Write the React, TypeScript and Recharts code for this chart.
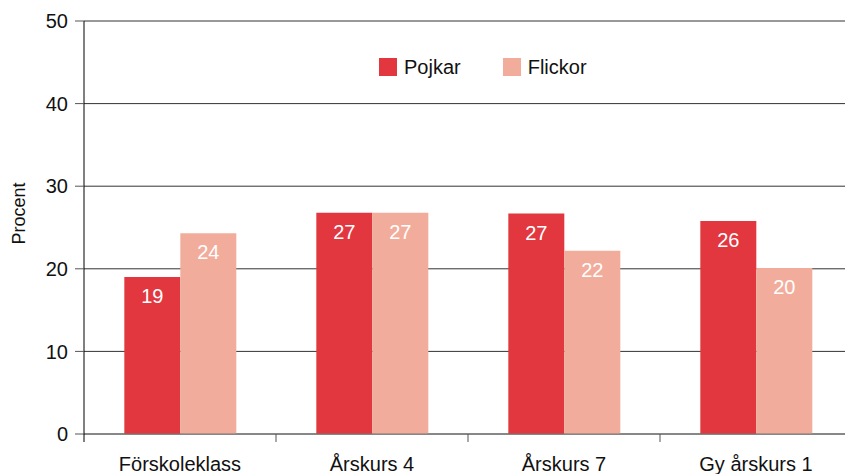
import React from 'react';
import { BarChart, Bar, XAxis, YAxis, CartesianGrid, Legend, LabelList } from 'recharts';

const categories = ['Förskoleklass', 'Årskurs 4', 'Årskurs 7', 'Gy årskurs 1'];
const seriesNames = ['Pojkar', 'Flickor'];
const pojkar = [19.0, 26.8, 26.7, 25.8];
const flickor = [24.3, 26.8, 22.2, 20.1];
const yTicks = [0, 10, 20, 30, 40, 50];

const data = categories.map((name, i) => ({ name, Pojkar: pojkar[i], Flickor: flickor[i] }));

const FONT = '"Liberation Sans", Arial, sans-serif';
const RED = '#e2373f';
const PINK = '#f2ac9c';

// category label plus a small tick at the left edge of each band
const CategoryTick = (props: any) => {
  const { x, y, payload } = props;
  const edge = payload.coordinate - payload.offset;
  return (
    <g>
      <line x1={edge} x2={edge} y1={y - 23} y2={y - 15} stroke={payload.index === 0 ? '#000' : '#555'} strokeWidth={1} />
      <text x={x} y={y} dy={14} textAnchor="middle" fontSize={20} fontFamily={FONT} fill="#111">
        {payload.value}
      </text>
    </g>
  );
};

const YLabel = (props: any) => {
  const { viewBox } = props;
  const cx = viewBox.x + 25;
  const cy = viewBox.y + viewBox.height / 2 - 14;
  return (
    <text x={cx} y={cy} transform={`rotate(-90, ${cx}, ${cy})`} textAnchor="middle" fontSize={18} fontFamily={FONT} fill="#111">
      Procent
    </text>
  );
};

const LegendContent = (props: any) => {
  const items = [...props.payload].sort((a: any, b: any) => seriesNames.indexOf(a.value) - seriesNames.indexOf(b.value));
  return (
    <div style={{ display: 'flex', fontFamily: FONT, fontSize: 20, color: '#111', lineHeight: '18px' }}>
      {items.map((p: any) => (
        <div key={p.value} style={{ display: 'flex', alignItems: 'center', marginRight: 42 }}>
          <span style={{ width: 18, height: 18, background: p.color, display: 'inline-block', marginRight: 7 }} />
          <span>{p.value}</span>
        </div>
      ))}
    </div>
  );
};

export default function App() {
  return (
    <div style={{ position: 'absolute', left: 0, top: 0, width: 845, height: 474, overflow: 'hidden', background: '#fff' }}>
      <BarChart
        width={860}
        height={474}
        data={data}
        margin={{ top: 21, right: 8, left: 0, bottom: 0 }}
        barCategoryGap="21%"
        barGap={0}
      >
        <CartesianGrid vertical={false} stroke="#333" strokeWidth={1} />
        <XAxis
          dataKey="name"
          height={40}
          tickLine={false}
          axisLine={{ stroke: '#777' }}
          tickSize={8}
          tickMargin={15}
          tick={<CategoryTick />}
          interval={0}
        />
        <YAxis
          domain={[0, 50]}
          ticks={yTicks}
          width={84}
          tickSize={9}
          tickMargin={7}
          tickLine={{ stroke: '#555' }}
          axisLine={{ stroke: '#000' }}
          tick={{ fill: '#111', fontSize: 20, fontFamily: FONT }}
          label={<YLabel />}
        />
        <Legend
          verticalAlign="middle"
          align="center"
          layout="horizontal"
          content={<LegendContent />}
          wrapperStyle={{ top: 58, left: 379, width: 'auto', height: 18 }}
        />
        {seriesNames.map((s, i) => (
          <Bar key={s} dataKey={s} fill={i === 0 ? RED : PINK} isAnimationActive={false}>
            <LabelList dataKey={s} position="insideTop" offset={12} fill="#fff" fontSize={20} fontFamily={FONT} formatter={(v: any) => Math.round(v)} />
          </Bar>
        ))}
      </BarChart>
    </div>
  );
}
